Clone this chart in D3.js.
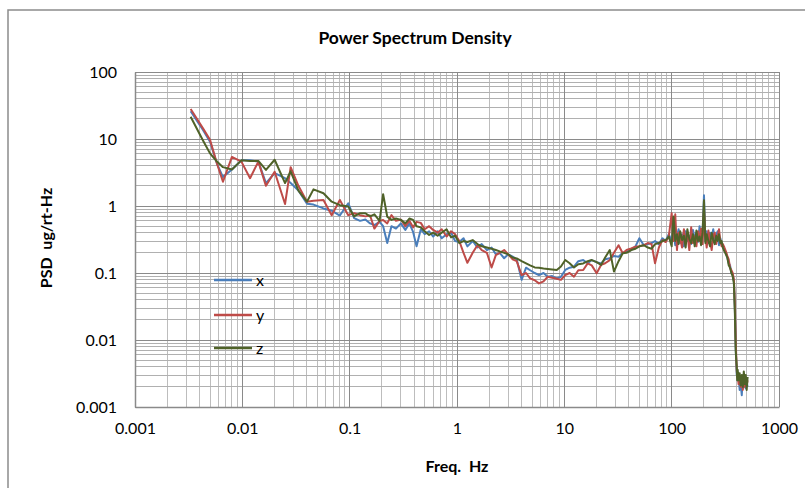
<!DOCTYPE html>
<html>
<head>
<meta charset="utf-8">
<script src="https://cdn.jsdelivr.net/npm/d3@7"></script>
<style>
  html, body { margin: 0; padding: 0; background: #ffffff; }
  svg { display: block; }
  text { font-family: Lato, "Open Sans", "Liberation Sans", sans-serif; fill: #000; white-space: pre; }
</style>
</head>
<body>
<svg id="chart" width="805" height="488"></svg>
<script>
// ---- data ----
const freqs = [
  0.0033, 0.0043, 0.005, 0.0058, 0.0066, 0.008, 0.0098, 0.0118, 0.0141, 0.0166,
  0.02, 0.025, 0.0282, 0.0333, 0.04, 0.046, 0.057, 0.068, 0.081, 0.097,
  0.11, 0.125, 0.14, 0.155, 0.17, 0.19, 0.205, 0.224, 0.245, 0.27, 0.3, 0.33,
  0.36, 0.39, 0.42, 0.46, 0.5, 0.55, 0.6, 0.66, 0.72, 0.8, 0.88, 0.96,
  1.05, 1.15, 1.25, 1.4, 1.55, 1.7, 1.9, 2.1, 2.3, 2.5, 2.75, 3.0,
  3.3, 3.6, 4.0, 4.4, 4.8, 5.3, 5.8, 6.4, 7.0, 7.7, 8.5, 9.3,
  10.2, 11.2, 12.3, 13.5, 15, 16.5, 18, 20, 22, 24, 26.5, 29, 32, 35,
  38, 42, 46, 50, 55, 60, 65, 70, 76, 82, 88, 94,
  100, 104, 108, 112, 116, 120, 125, 130, 135, 140, 146, 152, 158, 164, 170, 176,
  182, 188, 194, 200, 206, 212, 220, 228, 236, 244, 252, 260, 268, 276, 284, 292,
  300, 310, 320, 330, 340, 350, 360, 370, 380, 388, 395, 400, 404, 408, 412,
  420, 430, 440, 450, 460, 470, 480, 490, 500, 510
];
const xValues = [
  26, 13.6, 9.1, 4.3, 2.7, 3.5, 4.8, 4.8, 4.6, 2.2,
  3.1, 2.6, 2.2, 1.7, 1.08, 1.05, 0.92, 0.85, 0.72, 1.1,
  0.66, 0.6, 0.63, 0.55, 0.52, 0.58, 0.5, 0.28, 0.5, 0.46, 0.55, 0.44,
  0.55, 0.41, 0.25, 0.45, 0.38, 0.42, 0.35, 0.42, 0.33, 0.38, 0.4, 0.3,
  0.29, 0.33, 0.25, 0.3, 0.24, 0.27, 0.22, 0.24, 0.19, 0.2, 0.166, 0.19,
  0.175, 0.16, 0.079, 0.12, 0.11, 0.1, 0.093, 0.1, 0.088, 0.09, 0.083, 0.088,
  0.111, 0.12, 0.124, 0.15, 0.156, 0.14, 0.156, 0.145, 0.139, 0.16, 0.166, 0.18, 0.175, 0.2,
  0.208, 0.22, 0.25, 0.33, 0.26, 0.27, 0.28, 0.3, 0.27, 0.33, 0.3, 0.38,
  0.3, 0.42, 0.26, 0.35, 0.45, 0.28, 0.38, 0.25, 0.42, 0.3, 0.36, 0.27, 0.44, 0.32, 0.4, 0.29,
  0.5, 0.33, 0.38, 1.45, 0.3, 0.42, 0.28, 0.4, 0.33, 0.45, 0.3, 0.37, 0.42, 0.26, 0.33, 0.28,
  0.25, 0.22, 0.2, 0.17, 0.14, 0.13, 0.1, 0.095, 0.075, 0.03, 0.008, 0.0045, 0.003, 0.0035, 0.0025,
  0.003, 0.0018, 0.0022, 0.0015, 0.0028, 0.002, 0.0025, 0.0019, 0.0023, 0.002
];
const yValues = [
  28, 14.4, 9.7, 4.3, 2.3, 5.4, 4.6, 2.6, 4.6, 2.0,
  3.25, 1.07, 3.8, 2.0, 1.16, 1.2, 1.23, 0.73, 1.23, 0.73,
  0.78, 0.73, 0.7, 0.72, 0.46, 0.6, 0.62, 0.55, 0.73, 0.6, 0.63, 0.5,
  0.6, 0.48, 0.58, 0.56, 0.45, 0.5, 0.44, 0.4, 0.45, 0.35, 0.42, 0.38,
  0.3, 0.2, 0.142, 0.2, 0.26, 0.22, 0.2, 0.121, 0.185, 0.2, 0.22, 0.19,
  0.16, 0.15, 0.093, 0.1, 0.083, 0.078, 0.07, 0.075, 0.088, 0.085, 0.082, 0.079,
  0.093, 0.1, 0.088, 0.11, 0.111, 0.139, 0.13, 0.099, 0.132, 0.14, 0.156, 0.2, 0.26, 0.197,
  0.22, 0.233, 0.247, 0.25, 0.26, 0.28, 0.27, 0.14, 0.24, 0.31, 0.29, 0.35,
  0.78, 0.3, 0.75, 0.22, 0.4, 0.33, 0.24, 0.45, 0.3, 0.38, 0.22, 0.48, 0.28, 0.35, 0.25, 0.42,
  0.3, 0.46, 0.27, 0.9, 0.35, 0.24, 0.43, 0.3, 0.22, 0.36, 0.4, 0.27, 0.34, 0.45, 0.3, 0.25,
  0.27, 0.24, 0.21, 0.18, 0.16, 0.12, 0.11, 0.1, 0.08, 0.035, 0.01, 0.0055, 0.0035, 0.0028, 0.0032,
  0.0022, 0.0028, 0.002, 0.0026, 0.0018, 0.0024, 0.002, 0.0027, 0.0021, 0.0025
];
const zValues = [
  21.5, 9.5, 6.1, 4.6, 3.8, 3.5, 4.8, 4.7, 4.7, 3.45,
  4.9, 2.2, 3.3, 1.7, 1.16, 1.77, 1.55, 1.16, 1.03, 0.98,
  0.7, 0.78, 0.78, 0.7, 0.75, 0.6, 1.5, 0.69, 0.62, 0.65, 0.62, 0.55,
  0.65, 0.62, 0.5, 0.48, 0.42, 0.37, 0.4, 0.36, 0.4, 0.45, 0.34, 0.36,
  0.28, 0.3, 0.29, 0.31, 0.27, 0.25, 0.24, 0.23, 0.22, 0.21, 0.2, 0.19,
  0.17, 0.165, 0.15, 0.139, 0.13, 0.121, 0.12, 0.117, 0.115, 0.113, 0.111, 0.125,
  0.156, 0.14, 0.121, 0.135, 0.139, 0.15, 0.156, 0.145, 0.132, 0.17, 0.22, 0.105, 0.15, 0.197,
  0.2, 0.22, 0.23, 0.25, 0.26, 0.24, 0.23, 0.27, 0.28, 0.3, 0.31, 0.35,
  0.25, 0.7, 0.3, 0.38, 0.27, 0.42, 0.31, 0.36, 0.24, 0.45, 0.32, 0.28, 0.38, 0.25, 0.43, 0.3,
  0.35, 0.26, 0.4, 1.22, 0.28, 0.38, 0.3, 0.25, 0.4, 0.31, 0.27, 0.36, 0.3, 0.38, 0.28, 0.3,
  0.24, 0.21, 0.19, 0.17, 0.13, 0.12, 0.1, 0.09, 0.07, 0.025, 0.007, 0.005, 0.004, 0.0025, 0.0036,
  0.0025, 0.0032, 0.0021, 0.003, 0.002, 0.0034, 0.0022, 0.003, 0.0018, 0.0028
];
const seriesNames = ["x", "y", "z"];
const seriesColors = ["#4a7ebb", "#be4b48", "#4f6228"];
const xTickValues = [0.001, 0.01, 0.1, 1, 10, 100, 1000];
const xTickLabels = ["0.001", "0.01", "0.1", "1", "10", "100", "1000"];
const yTickValues = [0.001, 0.01, 0.1, 1, 10, 100];
const yTickLabels = ["0.001", "0.01", "0.1", "1", "10", "100"];
const titleText = "Power Spectrum Density";
const xTitle = "Freq.  Hz";
const yTitle = "PSD  ug/rt-Hz";

// ---- layout ----
const W = 805, H = 488;
const plot = { left: 135, right: 779, top: 72, bottom: 407 };
const svg = d3.select("#chart");

svg.append("rect").attr("x", 0).attr("y", 0).attr("width", W).attr("height", H).attr("fill", "#fff");
// chart area border (extends beyond the picture at right/bottom)
svg.append("rect").attr("x", 8).attr("y", 10).attr("width", W + 20).attr("height", H + 20)
  .attr("fill", "none").attr("stroke", "#8c8c8c").attr("stroke-width", 1.5);

const x = d3.scaleLog().domain([0.001, 1000]).range([plot.left, plot.right]);
const y = d3.scaleLog().domain([0.001, 100]).range([plot.bottom, plot.top]);

const isMajor = v => Math.abs(Math.log10(v) - Math.round(Math.log10(v))) < 1e-9;
const grid = svg.append("g").attr("shape-rendering", "crispEdges");
// minor gridlines
x.ticks().filter(v => !isMajor(v)).forEach(v => {
  grid.append("line").attr("x1", x(v)).attr("x2", x(v)).attr("y1", plot.top).attr("y2", plot.bottom)
    .attr("stroke", "#bdbdbd").attr("stroke-width", 1);
});
y.ticks().filter(v => !isMajor(v)).forEach(v => {
  grid.append("line").attr("y1", y(v)).attr("y2", y(v)).attr("x1", plot.left).attr("x2", plot.right)
    .attr("stroke", "#b0b0b0").attr("stroke-width", 1);
});
// major gridlines
xTickValues.forEach(v => {
  grid.append("line").attr("x1", x(v)).attr("x2", x(v)).attr("y1", plot.top).attr("y2", plot.bottom)
    .attr("stroke", "#8a8a8a").attr("stroke-width", 1);
});
yTickValues.forEach(v => {
  grid.append("line").attr("y1", y(v)).attr("y2", y(v)).attr("x1", plot.left).attr("x2", plot.right)
    .attr("stroke", "#8a8a8a").attr("stroke-width", 1);
});

// axes
const xAxis = d3.axisBottom(x).tickValues(xTickValues)
  .tickFormat((d, i) => xTickLabels[i]).tickSize(0).tickPadding(16);
const gx = svg.append("g").attr("transform", `translate(0,${plot.bottom})`).call(xAxis);
gx.select(".domain").attr("stroke", "#8a8a8a").attr("stroke-width", 1.5);
gx.selectAll("text").style("font-size", "16px").style("font-family", "Lato, sans-serif").attr("fill", "#000");

const yAxis = d3.axisLeft(y).tickValues(yTickValues)
  .tickFormat((d, i) => yTickLabels[i]).tickSize(0).tickPadding(18);
const gy = svg.append("g").attr("transform", `translate(${plot.left},0)`).call(yAxis);
gy.select(".domain").attr("stroke", "#8a8a8a").attr("stroke-width", 1.5);
gy.selectAll("text").style("font-size", "16px").style("font-family", "Lato, sans-serif").attr("fill", "#000");

// series
const allValues = [xValues, yValues, zValues];
const line = d3.line().x(d => x(d.f)).y(d => y(d.v));
allValues.forEach((vals, i) => {
  const data = freqs.map((f, k) => ({ f: f, v: vals[k] }));
  svg.append("path").datum(data).attr("d", line)
    .attr("fill", "none").attr("stroke", seriesColors[i]).attr("stroke-width", 2)
    .attr("stroke-linejoin", "round");
});

// legend
const legendY = [280, 315, 348];
seriesNames.forEach((n, i) => {
  svg.append("line").attr("x1", 214).attr("x2", 252).attr("y1", legendY[i]).attr("y2", legendY[i])
    .attr("stroke", seriesColors[i]).attr("stroke-width", 2.5);
  svg.append("text").attr("x", 256).attr("y", legendY[i]).attr("dy", "0.35em")
    .style("font-size", "16px").text(n);
});

// titles
svg.append("text").attr("x", 415).attr("y", 44).attr("text-anchor", "middle")
  .style("font-size", "17.5px").style("font-weight", "bold").text(titleText);
svg.append("text").attr("x", 457).attr("y", 472).attr("text-anchor", "middle")
  .style("font-size", "16px").style("font-weight", "bold").text(xTitle);
svg.append("text").attr("transform", "translate(52,238) rotate(-90)").attr("text-anchor", "middle")
  .style("font-size", "16px").style("font-weight", "bold").text(yTitle);
</script>
</body>
</html>
